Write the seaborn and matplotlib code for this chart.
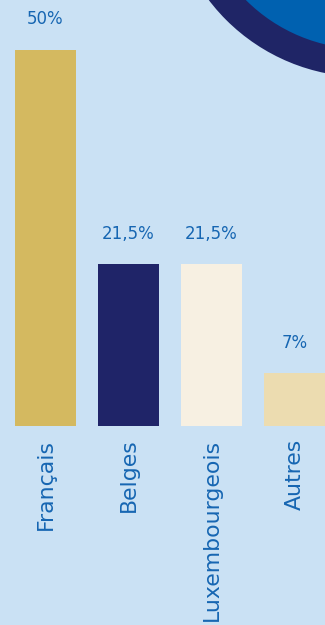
import matplotlib
matplotlib.use("Agg")
import matplotlib.pyplot as plt
import seaborn as sns
import pandas as pd
from matplotlib.patches import Circle

categories = ["Français", "Belges", "Luxembourgeois", "Autres"]
values = [50, 21.5, 21.5, 7]
value_labels = ["50%", "21,5%", "21,5%", "7%"]
bar_colors = ["#d4b960", "#1f2468", "#f7f0e2", "#ecdcb0"]

BG = "#cae1f4"
TEXT = "#1666b2"

sns.set_theme(style="white")
plt.rcParams["font.family"] = ["DejaVu Sans"]

W, H = 325, 625
fig = plt.figure(figsize=(W / 100, H / 100), dpi=100, facecolor=BG)

# decoration axes (full figure, pixel coords)
deco = fig.add_axes([0, 0, 1, 1], zorder=0)
deco.set_xlim(0, W)
deco.set_ylim(H, 0)
deco.axis("off")
deco.set_facecolor(BG)
deco.add_patch(Circle((364, -118), 195, color="#1f2566", lw=0))
deco.add_patch(Circle((364, -118), 167, color="#0061b0", lw=0))

# main bar axes: from top of fig to bar baseline at y=426px
bottom_px = 426
ax = fig.add_axes([0, 1 - bottom_px / H, 1, bottom_px / H], zorder=1)
ax.patch.set_alpha(0)

df = pd.DataFrame({"cat": categories, "val": values})
sns.barplot(data=df, x="cat", y="val", hue="cat", palette=bar_colors,
            saturation=1, width=61 / 83, legend=False, ax=ax, order=categories,
            linewidth=0, edgecolor="none")

ax.set_xlim(-45.5 / 83, (W - 45.5) / 83)
ax.set_ylim(0, bottom_px / 376 * 50)

for i, (v, lab) in enumerate(zip(values, value_labels)):
    ax.annotate(lab, (i, v), xytext=(0, 22), textcoords="offset points",
                ha="center", va="center", color=TEXT, fontsize=12)

ax.set_xlabel("")
ax.set_ylabel("")
ax.set_yticks([])
ax.set_xticks(range(len(categories)))
ax.set_xticklabels(categories, rotation=90, color=TEXT, fontsize=15.8,
                   va="top", ha="center")
ax.tick_params(axis="x", length=0, pad=9)
for s in ax.spines.values():
    s.set_visible(False)

fig.savefig("out.png", dpi=100, facecolor=BG)
